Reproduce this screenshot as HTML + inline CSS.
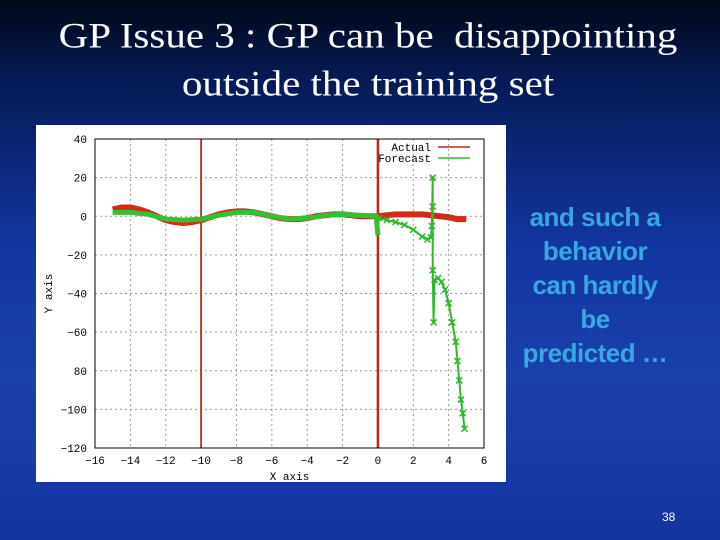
<!DOCTYPE html>
<html><head><meta charset="utf-8"><style>
body{margin:0;width:720px;height:540px;overflow:hidden;font-family:"Liberation Serif",serif}
#bg{position:absolute;left:0;top:0;width:720px;height:540px;background:linear-gradient(180deg,#010818 0%,#061a55 15%,#1236a0 45%,#1a40ac 70%,#1434a0 100%)}
.t{position:absolute;left:0;width:736px;text-align:center;color:#fff;font-size:41px;white-space:pre;transform:scaleY(0.88);transform-origin:top}
#side{position:absolute;left:503px;width:184px;top:200px;text-align:center;color:#3aa6e2;font:bold 26px/34px "Liberation Sans",sans-serif;letter-spacing:-0.5px}
#pn{position:absolute;left:662px;top:510px;color:#fff;font:12px "Liberation Sans",sans-serif}
svg{position:absolute;left:0;top:0}
</style></head><body>
<div id="bg"></div>
<div class="t" style="top:14px">GP Issue 3 : GP can be  disappointing</div>
<div class="t" style="top:62px">outside the training set</div>
<svg width="720" height="540">
<rect x="36" y="125" width="470" height="357" fill="#fff"/>
<g id="grid"></g><g id="plot"></g><g id="axes"></g>
</svg>
<div id="side">and such a<br>behavior<br>can hardly<br>be<br>predicted …</div>
<div id="pn">38</div>
<script>
const xTicks=[-16,-14,-12,-10,-8,-6,-4,-2,0,2,4,6];
const yTicks=[40,20,0,-20,-40,-60,-80,-100,-120];
const yTickLabels=["40","20","0","\u221220","\u221240","\u221260","80","\u2212100","\u2212120"];
const verticalMarkers=[-10,0];
const actualX=[-15,-14.5,-14,-13.5,-13,-12.5,-12,-11.5,-11,-10.5,-10,-9.5,-9,-8.5,-8,-7.5,-7,-6.5,-6,-5.5,-5,-4.5,-4,-3.5,-3,-2.5,-2,-1.5,-1,-0.5,0,0.5,1,1.5,2,2.5,3,3.5,4,4.5,5];
const actualY=[3.5,4.5,4.5,3.5,2,0,-2,-3,-3.5,-3,-2,-0.5,1,2,2.5,2.5,2,1,0,-1,-1.5,-1.5,-1,0,0.5,1,1,0.5,0,0,0,0.5,1,1,1,1,0.5,0,-0.5,-1.5,-1.5];
const forecastX=[-15,-14,-13,-12,-11,-10,-9,-8,-7,-6,-5,-4,-3,-2,-1,-0.1,0,0.05,0.5,1,1.5,2,2.5,2.8,3.0,3.05,3.1,3.1,3.1,3.15,3.2,3.4,3.6,3.8,4.0,4.2,4.4,4.5,4.6,4.7,4.8,4.9];
const forecastY=[2,2,1,-1.5,-2,-1.5,0.5,2,2,0,-1.5,-1,0.5,1,0.5,0,-10,-1,-2,-3,-4.5,-7,-10.5,-12,-11,-5,20,5,-28,-55,-33,-32,-34,-38,-45,-55,-65,-75,-85,-95,-102,-110];
const L=95,R=484,T=139,B=448;
const sx=v=>L+(v+16)/22*(R-L), sy=v=>T+(40-v)/160*(B-T);
const NS='http://www.w3.org/2000/svg';
function mk(tag,attrs,parent){const e=document.createElementNS(NS,tag);for(const k in attrs)e.setAttribute(k,attrs[k]);document.getElementById(parent).appendChild(e);return e;}
xTicks.forEach(v=>{
  if(v>-16&&v<6){const g=mk('line',{x1:sx(v),x2:sx(v),y1:T,y2:B,stroke:'#999','stroke-dasharray':'2,3','stroke-width':1},'grid');
  }
  const t=mk('text',{x:sx(v),y:B+16,'text-anchor':'middle','font-family':'Liberation Mono,monospace','font-size':11,fill:'#000'},'axes');
  t.textContent=String(v).replace('-','\u2212');
  
});
yTicks.forEach((v,i)=>{
  if(v<40&&v>-120){const g=mk('line',{x1:L,x2:R,y1:sy(v),y2:sy(v),stroke:'#999','stroke-dasharray':'2,3','stroke-width':1},'grid');
  }
  const t=mk('text',{x:L-8,y:sy(v)+4,'text-anchor':'end','font-family':'Liberation Mono,monospace','font-size':11,fill:'#000'},'axes');
  t.textContent=yTickLabels[i];
  
});
let a=mk('rect',{x:L,y:T,width:R-L,height:B-T,fill:'none',stroke:'#000','stroke-width':1},'axes');

let xt=mk('text',{x:(L+R)/2,y:480,'text-anchor':'middle','font-family':'Liberation Mono,monospace','font-size':11},'axes');xt.textContent='X axis';

let yt=mk('text',{x:52,y:(T+B)/2,'text-anchor':'middle','font-family':'Liberation Mono,monospace','font-size':11,transform:`rotate(-90 52 ${(T+B)/2})`},'axes');yt.textContent='Y axis';

verticalMarkers.forEach(v=>{const l=mk('line',{x1:sx(v),x2:sx(v),y1:T,y2:B,stroke:'#c0281e','stroke-width':v===0?2.5:1.8},'plot');
  });
let ap=mk('polyline',{points:actualX.map((x,i)=>sx(x)+','+sy(actualY[i])).join(' '),fill:'none',stroke:'#d42a1a','stroke-width':6,'stroke-linejoin':'round'},'plot');

let fp=mk('polyline',{points:forecastX.map((x,i)=>sx(x)+','+sy(forecastY[i])).join(' '),fill:'none',stroke:'#2eb82e','stroke-width':2},'plot');

let fpw=mk('polyline',{points:forecastX.filter(x=>x<=0).map((x,i)=>sx(x)+','+sy(forecastY[i])).join(' '),fill:'none',stroke:'#33c033','stroke-width':5,'stroke-linejoin':'round'},'plot');

forecastX.forEach((x,i)=>{if(x>0){const cx=sx(x),cy=sy(forecastY[i]);
  const m=mk('path',{d:`M${cx-3},${cy-3}L${cx+3},${cy+3}M${cx-3},${cy+3}L${cx+3},${cy-3}`,stroke:'#2eb82e','stroke-width':1.6},'plot');
  }});
let l1=mk('text',{x:431,y:151,'text-anchor':'end','font-family':'Liberation Mono,monospace','font-size':11},'axes');l1.textContent='Actual';

let l1l=mk('line',{x1:438,x2:470,y1:147,y2:147,stroke:'#c0281e','stroke-width':1.5},'axes');

let l2=mk('text',{x:431,y:162,'text-anchor':'end','font-family':'Liberation Mono,monospace','font-size':11},'axes');l2.textContent='Forecast';

let l2l=mk('line',{x1:438,x2:470,y1:158,y2:158,stroke:'#2eb82e','stroke-width':1.5},'axes');

</script>
</body></html>
